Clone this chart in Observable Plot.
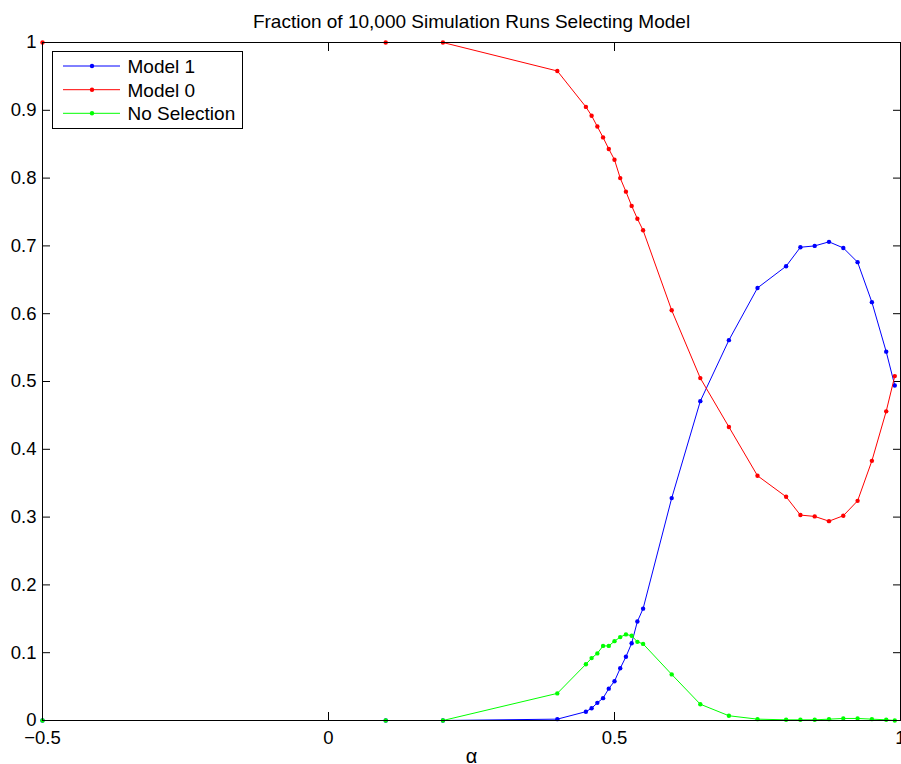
<!DOCTYPE html>
<html>
<head>
<meta charset="utf-8">
<script src="https://cdn.jsdelivr.net/npm/d3@7"></script>
<script src="https://cdn.jsdelivr.net/npm/@observablehq/plot@0.6"></script>
<style>
  html, body { margin: 0; padding: 0; background: #fff; }
  #wrap { position: relative; width: 901px; height: 764px; overflow: hidden; font-family: "Liberation Sans", Arial, sans-serif; }
  #legend { position: absolute; left: 52px; top: 51px; }
</style>
</head>
<body>
<div id="wrap"></div>
<script>
const title = "Fraction of 10,000 Simulation Runs Selecting Model";
const xLabel = "α";

const alpha = [-0.5, 0.1, 0.2, 0.4, 0.45, 0.46, 0.47, 0.48, 0.49, 0.5, 0.51, 0.52, 0.53, 0.54, 0.55,
  0.6, 0.65, 0.7, 0.75, 0.8, 0.825, 0.85, 0.875, 0.9, 0.925, 0.95, 0.975, 0.99];

const model1 = [0, 0, 0, 0.002, 0.013, 0.018, 0.026, 0.033, 0.047, 0.058, 0.077, 0.094, 0.114, 0.146, 0.165,
  0.328, 0.471, 0.561, 0.638, 0.670, 0.698, 0.700, 0.706, 0.697, 0.676, 0.617, 0.544, 0.494];

const model0 = [1, 1, 1, 0.958, 0.905, 0.892, 0.876, 0.860, 0.843, 0.827, 0.800, 0.780, 0.759, 0.740, 0.723,
  0.605, 0.505, 0.433, 0.361, 0.330, 0.303, 0.301, 0.294, 0.302, 0.324, 0.383, 0.456, 0.508];

const noSelection = [0, 0, 0, 0.040, 0.083, 0.092, 0.099, 0.110, 0.110, 0.117, 0.123, 0.127, 0.125, 0.116, 0.113,
  0.068, 0.024, 0.007, 0.002, 0.001, 0.001, 0.001, 0.002, 0.003, 0.003, 0.002, 0.001, 0];

const seriesNames = ["Model 1", "Model 0", "No Selection"];
const seriesColors = ["#0000ff", "#ff0000", "#00ff00"];
const seriesValues = [model1, model0, noSelection];

const xTicks = [-0.5, 0, 0.5, 1];
const xTickLabels = ["\u22120.5", "0", "0.5", "1"];
const yTicks = [0, 0.1, 0.2, 0.3, 0.4, 0.5, 0.6, 0.7, 0.8, 0.9, 1];
const yTickLabels = ["0", "0.1", "0.2", "0.3", "0.4", "0.5", "0.6", "0.7", "0.8", "0.9", "1"];

const xFmt = new Map(xTicks.map((t, i) => [t, xTickLabels[i]]));
const yFmt = new Map(yTicks.map((t, i) => [t, yTickLabels[i]]));

const seriesMarks = seriesValues.flatMap((vals, k) => {
  const rows = alpha.map((a, i) => ({a, v: vals[i]}));
  return [
    Plot.line(rows, {x: "a", y: "v", stroke: seriesColors[k], strokeWidth: 1}),
    Plot.dot(rows, {x: "a", y: "v", fill: seriesColors[k], r: 2.2, stroke: "none"})
  ];
});

const chart = Plot.plot({
  width: 901,
  height: 764,
  marginLeft: 42,
  marginRight: 1,
  marginTop: 42,
  marginBottom: 44,
  x: {domain: [-0.5, 1], label: null},
  y: {domain: [0, 1], label: null},
  style: {fontFamily: "'Liberation Sans', Arial, sans-serif", fontSize: "18px", background: "white", color: "black", overflow: "visible"},
  marks: [
    Plot.axisX(xTicks, {anchor: "bottom", tickSize: -8, tickPadding: 18, tickFormat: d => xFmt.get(d), label: null, fontSize: 18.5}),
    Plot.axisX(xTicks, {anchor: "top", tickSize: -8, tickFormat: () => "", label: null}),
    Plot.axisY(yTicks, {anchor: "left", tickSize: -8, tickPadding: 14, tickFormat: d => yFmt.get(d), label: null, fontSize: 18.5}),
    Plot.axisY(yTicks, {anchor: "right", tickSize: -8, tickFormat: () => "", label: null}),
    ...seriesMarks,
    Plot.frame({stroke: "black", strokeWidth: 1}),
    Plot.text([title], {frameAnchor: "top", dy: -21, text: d => d, fontSize: 19, lineAnchor: "middle", fill: "black"}),
    Plot.text([xLabel], {frameAnchor: "bottom", dy: 36, text: d => d, fontSize: 20, lineAnchor: "middle", fill: "black"})
  ]
});

const wrap = document.getElementById("wrap");
wrap.appendChild(chart);

// Legend (HTML overlay, built from series arrays)
const lw = 190, lh = 77, rowY = [15, 38.7, 62.3];
const legend = d3.select(wrap).append("svg")
  .attr("id", "legend")
  .attr("width", lw + 1)
  .attr("height", lh + 1);
legend.append("rect")
  .attr("x", 0.5).attr("y", 0.5).attr("width", lw).attr("height", lh)
  .attr("fill", "white").attr("stroke", "black").attr("stroke-width", 1);
const rows = legend.selectAll("g.row").data(seriesNames).join("g")
  .attr("transform", (d, i) => `translate(0,${rowY[i]})`);
rows.append("line")
  .attr("x1", 11).attr("x2", 68).attr("y1", 0).attr("y2", 0)
  .attr("stroke", (d, i) => seriesColors[i]).attr("stroke-width", 1);
rows.append("circle")
  .attr("cx", 40).attr("cy", 0).attr("r", 2.2)
  .attr("fill", (d, i) => seriesColors[i]);
rows.append("text")
  .attr("x", 75.5).attr("y", 7)
  .attr("font-family", "'Liberation Sans', Arial, sans-serif")
  .attr("font-size", 19)
  .attr("fill", "black")
  .text(d => d);
</script>
</body>
</html>
